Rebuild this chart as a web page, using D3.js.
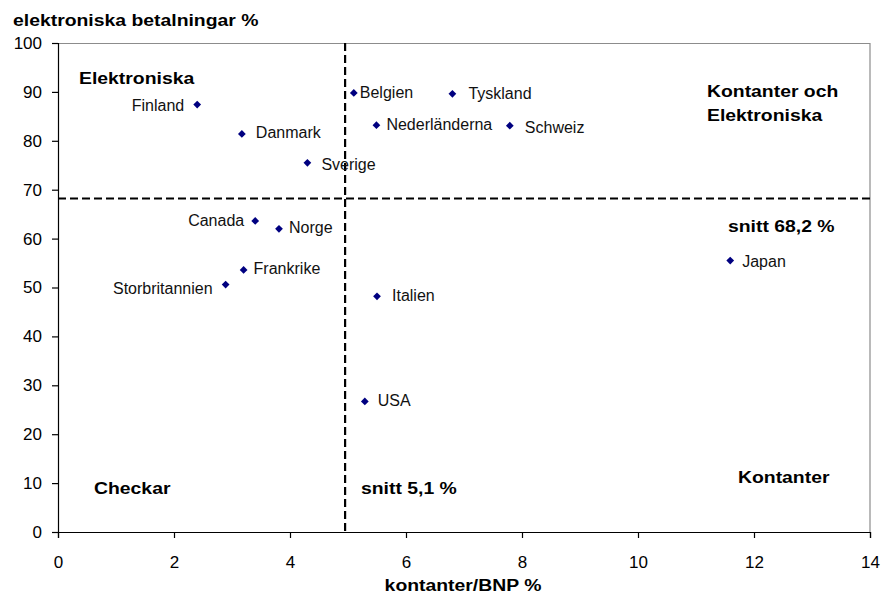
<!DOCTYPE html>
<html>
<head>
<meta charset="utf-8">
<script src="https://cdn.jsdelivr.net/npm/d3@7"></script>
<style>
  body { margin: 0; background: #fff; }
  text { font-family: "Liberation Sans", Arial, sans-serif; }
</style>
</head>
<body>
<div id="chart"></div>
<script>
// data
var countries = ["Finland", "Danmark", "Sverige", "Belgien", "Tyskland", "Nederländerna", "Schweiz",
    "Canada", "Norge", "Frankrike", "Storbritannien", "Italien", "USA", "Japan"];
var cashGdp = [2.4, 3.17, 4.3, 5.1, 6.8, 5.49, 7.79, 3.4, 3.81, 3.2, 2.89, 5.5, 5.29, 11.59];
var electronic = [87.4, 81.4, 75.5, 89.8, 89.6, 83.2, 83.1, 63.6, 62.0, 53.6, 50.6, 48.2, 26.7, 55.5];
var avgCash = 4.95;
var avgElectronic = 68.2;
var xTicks = [0, 2, 4, 6, 8, 10, 12, 14];
var yTicks = [0, 10, 20, 30, 40, 50, 60, 70, 80, 90, 100];

// label placement next to each point (dx, dy, anchor)
var labelPos = {
    "Finland": [-13, 6, "end"], "Danmark": [14, 4, "start"], "Sverige": [14, 7, "start"],
    "Belgien": [6, 5, "start"], "Tyskland": [16, 5, "start"], "Nederländerna": [10, 5, "start"],
    "Schweiz": [15, 7, "start"], "Canada": [-11, 5, "end"], "Norge": [10, 4, "start"],
    "Frankrike": [10, 4, "start"], "Storbritannien": [-13, 9, "end"], "Italien": [15, 5, "start"],
    "USA": [13, 5, "start"], "Japan": [12, 6, "start"]
};

var W = 882, H = 596;
var margin = { top: 43, right: 12, bottom: 64, left: 58 },
    width = W - margin.left - margin.right,
    height = H - margin.top - margin.bottom;

var svg = d3.select("#chart")
    .append("svg")
    .attr("width", W)
    .attr("height", H);

var g = svg.append("g")
    .attr("transform", "translate(" + margin.left + "," + margin.top + ")");

var x = d3.scaleLinear().domain([0, 14]).range([0, width]);
var y = d3.scaleLinear().domain([0, 100]).range([height, 0]);

// frame top/right
g.append("path")
    .attr("d", "M0,0.5H" + width + "V" + height)
    .attr("fill", "none")
    .attr("stroke", "#8c8c8c")
    .attr("stroke-width", 1.2);

// average lines
g.append("line")
    .attr("x1", x(avgCash)).attr("x2", x(avgCash))
    .attr("y1", 0).attr("y2", height)
    .attr("stroke", "#000").attr("stroke-width", 2.2)
    .attr("stroke-dasharray", "8,4");

g.append("line")
    .attr("x1", 0).attr("x2", width)
    .attr("y1", y(avgElectronic)).attr("y2", y(avgElectronic))
    .attr("stroke", "#000").attr("stroke-width", 2.2)
    .attr("stroke-dasharray", "8,4");

// axes
var xAxis = g.append("g")
    .attr("transform", "translate(0," + height + ")")
    .call(d3.axisBottom(x).tickValues(xTicks).tickSize(6).tickPadding(18).tickFormat(d3.format("d")));

var yAxis = g.append("g")
    .call(d3.axisLeft(y).tickValues(yTicks).tickSize(6).tickPadding(10).tickFormat(d3.format("d")));

[xAxis, yAxis].forEach(function (a) {
    a.select(".domain").attr("stroke", "#000").attr("stroke-width", 1.2);
    a.selectAll(".tick line").attr("stroke", "#000").attr("stroke-width", 1.2);
    a.selectAll(".tick text")
        .attr("fill", "#000")
        .style("font-family", "'Liberation Sans', Arial, sans-serif")
        .style("font-size", "17px");
});

// points
g.selectAll(".pt")
    .data(countries)
    .enter()
    .append("path")
    .attr("class", "pt")
    .attr("d", d3.symbol(d3.symbolSquare, 30))
    .attr("transform", function (d, i) {
        return "translate(" + x(cashGdp[i]) + "," + y(electronic[i]) + ") rotate(45)";
    })
    .attr("fill", "#000080");

g.selectAll(".lbl")
    .data(countries)
    .enter()
    .append("text")
    .attr("class", "lbl")
    .attr("x", function (d, i) { return x(cashGdp[i]) + labelPos[d][0]; })
    .attr("y", function (d, i) { return y(electronic[i]) + labelPos[d][1]; })
    .attr("text-anchor", function (d) { return labelPos[d][2]; })
    .style("font-size", "16px")
    .attr("fill", "#111")
    .text(function (d) { return d; });

// bold annotations (slightly widened like the original)
function boldText(px, py, txt, anchor) {
    svg.append("text")
        .attr("transform", "translate(" + px + "," + py + ") scale(1.14,1)")
        .attr("text-anchor", anchor || "start")
        .attr("font-weight", "bold")
        .style("font-size", "17px")
        .attr("fill", "#000")
        .text(txt);
}

boldText(13, 26, "elektroniska betalningar %");
boldText(463, 591, "kontanter/BNP %", "middle");
boldText(79, 84, "Elektroniska");
boldText(707, 97, "Kontanter och");
boldText(707, 121, "Elektroniska");
boldText(728, 232, "snitt 68,2 %");
boldText(94, 494, "Checkar");
boldText(361, 494, "snitt 5,1 %");
boldText(738, 483, "Kontanter");
</script>
</body>
</html>
